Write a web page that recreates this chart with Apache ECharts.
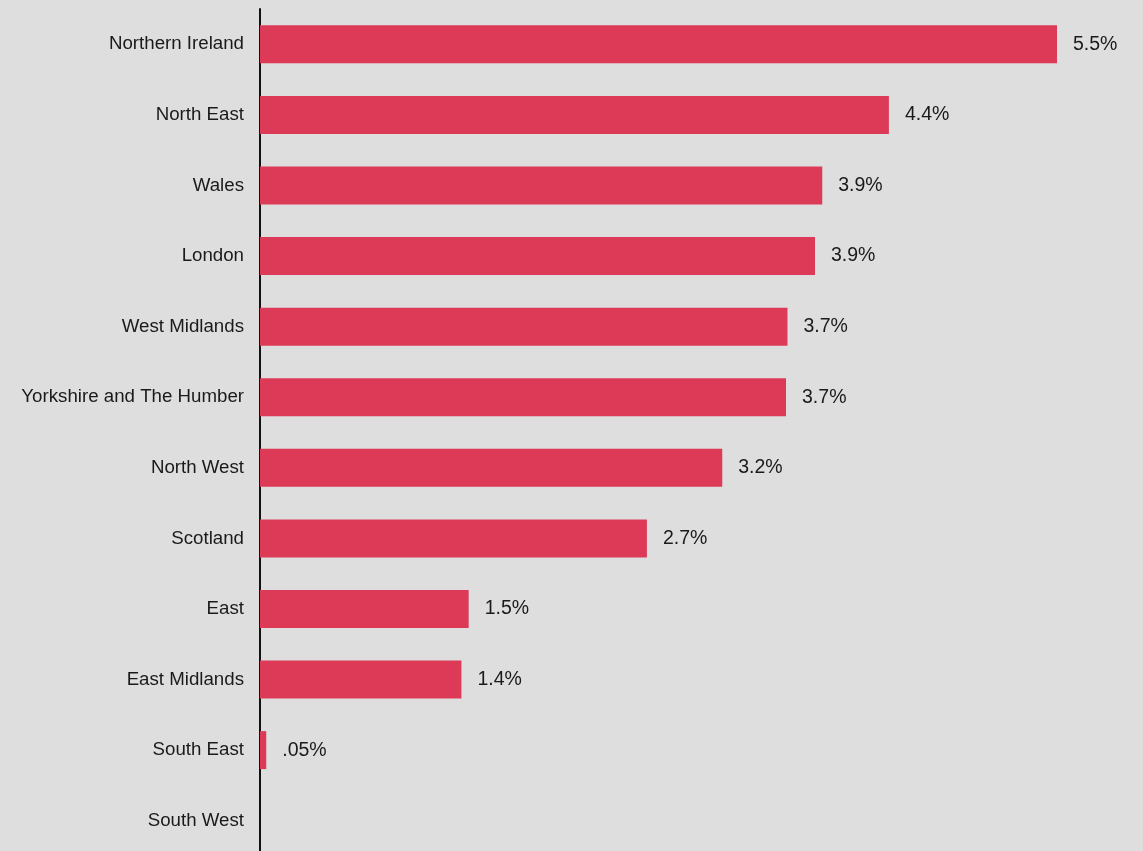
<!DOCTYPE html>
<html>
<head>
<meta charset="utf-8">
<script src="https://cdn.jsdelivr.net/npm/echarts@6/dist/echarts.min.js"></script>
<style>
  html, body { margin: 0; padding: 0; background: #dedede; }
  #chart { width: 1143px; height: 851px; }
</style>
</head>
<body>
<div id="chart"></div>
<script>
// regions, top to bottom
var regions = ['Northern Ireland', 'North East', 'Wales', 'London', 'West Midlands',
    'Yorkshire and The Humber', 'North West', 'Scotland', 'East', 'East Midlands',
    'South East', 'South West'];
// bar lengths as drawn
var values = [5.5, 4.34, 3.88, 3.83, 3.64, 3.63, 3.19, 2.67, 1.44, 1.39, 0.043, 0];
// printed labels
var labels = ['5.5%', '4.4%', '3.9%', '3.9%', '3.7%', '3.7%', '3.2%', '2.7%', '1.5%', '1.4%', '.05%', ''];

var myChart = echarts.init(document.getElementById('chart'));
var option = {
    backgroundColor: '#dedede',
    animation: false,
    grid: { left: 260, right: 86, top: 9, height: 847, outerBoundsMode: 'none' },
    xAxis: {
        type: 'value',
        min: 0,
        max: 5.5,
        show: false
    },
    yAxis: {
        type: 'category',
        inverse: true,
        data: regions,
        axisLine: { show: true, lineStyle: { color: '#111', width: 2 } },
        axisTick: { show: false },
        axisLabel: {
            margin: 16,
            color: '#1a1a1a',
            fontSize: 18.7,
            fontFamily: 'Liberation Sans, Arial, sans-serif'
        }
    },
    series: [{
        type: 'bar',
        data: values,
        barWidth: 38,
        itemStyle: { color: '#dc3a57' },
        label: {
            show: true,
            position: 'right',
            distance: 16,
            color: '#1a1a1a',
            fontSize: 19.5,
            fontFamily: 'Liberation Sans, Arial, sans-serif',
            formatter: function (p) { return labels[p.dataIndex]; }
        }
    }]
};
myChart.setOption(option);
</script>
</body>
</html>
